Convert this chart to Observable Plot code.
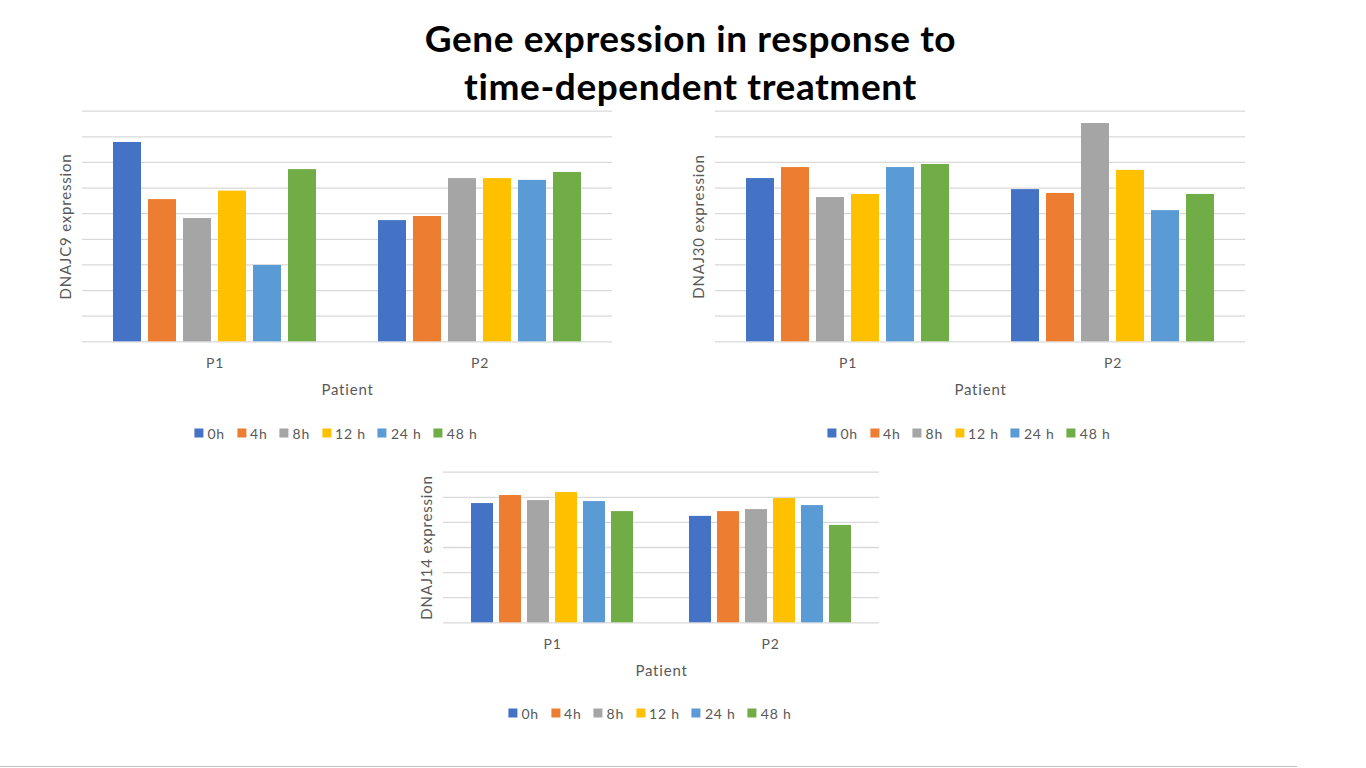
<!DOCTYPE html>
<html><head><meta charset="utf-8">
<script src="https://cdn.jsdelivr.net/npm/d3@7"></script>
<script src="https://cdn.jsdelivr.net/npm/@observablehq/plot@0.6"></script>
<style>
body{margin:0;background:#fff;width:1366px;height:768px;position:relative;overflow:hidden;font-family:Lato,"Open Sans",sans-serif;}
.title{position:absolute;left:0;width:1381px;top:14px;text-align:center;font-weight:bold;font-size:37px;letter-spacing:0.6px;line-height:48px;color:#000;}
.panel{position:absolute;}
.legend{position:absolute;transform:translate(-50%,-50%);width:max-content;}
.legend [class$="-swatch"]{margin-right:12px !important;}
.legend [class$="-swatch"]:last-child{margin-right:0 !important;}
.legend [class$="-swatch"] > svg{margin-right:4px !important;}
.bottomline{position:absolute;left:0;top:766px;width:1297px;height:1px;background:#c0c0c0;}
</style></head><body>
<div class="title">Gene expression in response to<br>time-dependent treatment</div>
<div id="p1" class="panel" style="left:0px;top:100px"></div>
<div id="p2" class="panel" style="left:633px;top:100px"></div>
<div id="p3" class="panel" style="left:360px;top:460px"></div>
<div id="l1" class="legend" style="left:336px;top:433px"></div>
<div id="l2" class="legend" style="left:969px;top:433px"></div>
<div id="l3" class="legend" style="left:650px;top:713px"></div>
<div class="bottomline"></div>
<script>
const patients = ["P1", "P2"];
const times = ["0h", "4h", "8h", "12h", "24h", "48h"];
const timeLabels = ["0h", "4h", "8h", "12 h", "24 h", "48 h"];
const colors = ["#4472C4", "#ED7D31", "#A5A5A5", "#FFC000", "#5B9BD5", "#70AD47"];

const dnajc9P1 = [7.78, 5.55, 4.81, 5.88, 2.98, 6.72];
const dnajc9P2 = [4.73, 4.89, 6.37, 6.37, 6.30, 6.61];
const dnaj30P1 = [6.37, 6.80, 5.63, 5.75, 6.80, 6.92];
const dnaj30P2 = [5.94, 5.79, 8.52, 6.69, 5.12, 5.75];
const dnaj14P1 = [4.75, 5.07, 4.87, 5.19, 4.83, 4.43];
const dnaj14P2 = [4.24, 4.43, 4.51, 4.95, 4.67, 3.88];

const gridTicksTall = [0, 1, 2, 3, 4, 5, 6, 7, 8, 9];
const gridTicksShort = [0, 1, 2, 3, 4, 5, 6];

const FONT = "Lato, 'Open Sans', sans-serif";
const GRAY = "#595959";

function rowsFor(p1, p2) {
  const rows = [];
  times.forEach((t, i) => rows.push({patient: "P1", time: t, value: p1[i]}));
  times.forEach((t, i) => rows.push({patient: "P2", time: t, value: p2[i]}));
  return rows;
}

function panel({p1, p2, ticks, ylabel, width, height, marginTop, marginBottom}) {
  const rows = rowsFor(p1, p2);
  return Plot.plot({
    width, height,
    marginLeft: 82, marginRight: 28, marginTop, marginBottom,
    style: {fontFamily: FONT, color: GRAY, background: "transparent", letterSpacing: "0.8px", overflow: "visible"},
    fx: {domain: patients, padding: 0},
    x: {domain: times, paddingInner: 0.2, paddingOuter: 0.87, axis: null},
    y: {domain: [0, ticks[ticks.length - 1]], axis: null},
    color: {domain: times, range: colors},
    marks: [
      Plot.ruleY(ticks, {stroke: "#d9d9d9", strokeWidth: 1.3}),
      Plot.barY(rows, {fx: "patient", x: "time", y: "value", fill: "time"}),
      Plot.axisFx({anchor: "bottom", tickSize: 0, tickPadding: 16, fontSize: 14, label: null}),
      Plot.axisFx({anchor: "bottom", ticks: [], tickSize: 0, fontSize: 15, label: "Patient", labelAnchor: "center", labelOffset: 53, labelArrow: "none"}),
      Plot.axisY({ticks: [], tickSize: 0, fontSize: 15, label: ylabel, labelAnchor: "center", labelOffset: 22, labelArrow: "none"})
    ]
  });
}

function legend() {
  return Plot.legend({
    color: {domain: times, range: colors, tickFormat: (d) => timeLabels[times.indexOf(d)]},
    legend: "swatches",
    swatchSize: 9,
    style: {fontFamily: FONT, fontSize: "14px", color: GRAY, margin: "0", letterSpacing: "0.8px"}
  });
}

document.getElementById("p1").append(panel({p1: dnajc9P1, p2: dnajc9P2, ticks: gridTicksTall, ylabel: "DNAJC9 expression", width: 640, height: 300, marginTop: 10.7, marginBottom: 58.7}));
document.getElementById("p2").append(panel({p1: dnaj30P1, p2: dnaj30P2, ticks: gridTicksTall, ylabel: "DNAJ30 expression", width: 640, height: 300, marginTop: 10.7, marginBottom: 58.7}));
document.getElementById("p3").append(panel({p1: dnaj14P1, p2: dnaj14P2, ticks: gridTicksShort, ylabel: "DNAJ14 expression", width: 547, height: 222, marginTop: 11.7, marginBottom: 59.7}));
document.getElementById("l1").append(legend());
document.getElementById("l2").append(legend());
document.getElementById("l3").append(legend());
</script>
</body></html>
